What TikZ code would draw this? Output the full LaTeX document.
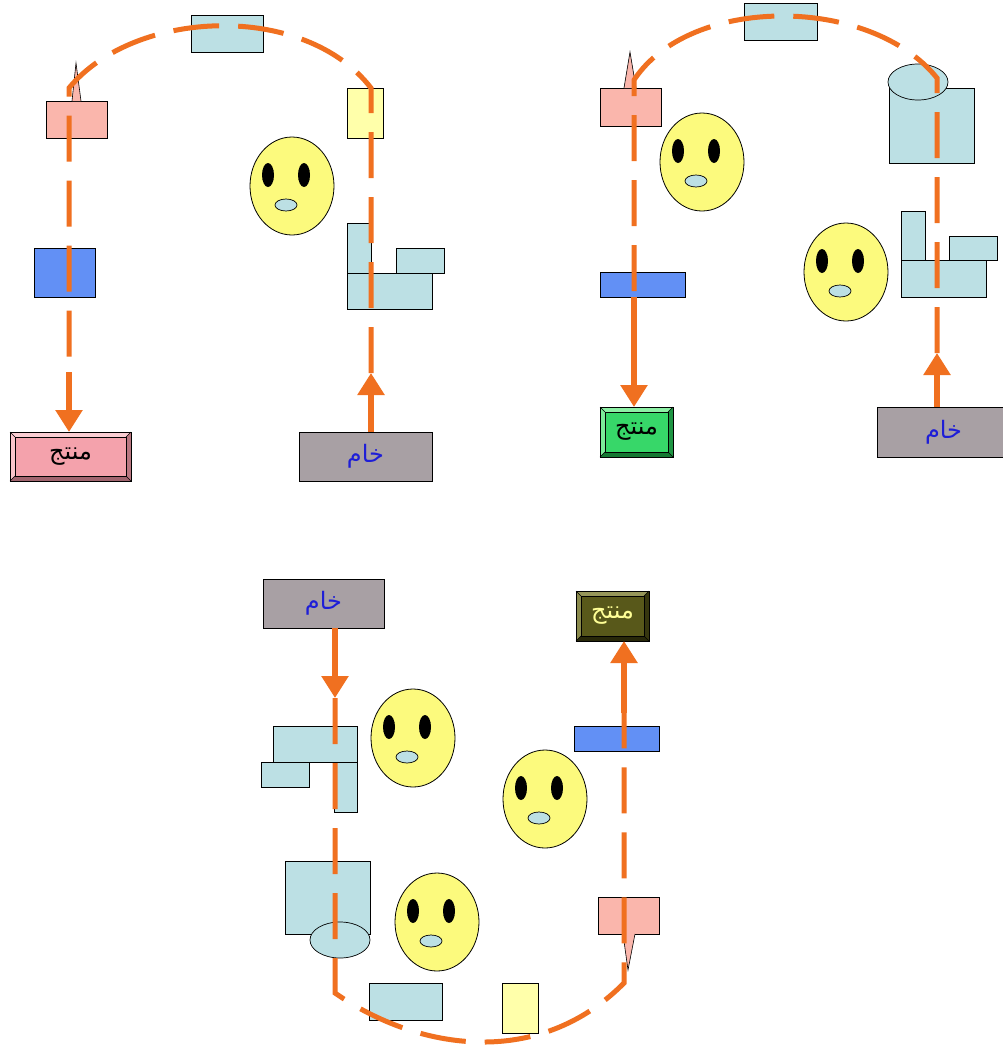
\documentclass[tikz,border=0pt]{standalone}
\usepackage{fontspec}
\usetikzlibrary{arrows.meta,shapes.geometric,calc}
\newfontfamily\arabicfont[Script=Arabic]{DejaVu Sans}
\TeXXeTstate=1

\definecolor{flow}{RGB}{240,112,32}
\definecolor{machblue}{RGB}{188,224,228}
\definecolor{salmon}{RGB}{250,182,172}
\definecolor{paleyellow}{RGB}{255,255,170}
\definecolor{toolblue}{RGB}{98,144,245}
\definecolor{faceyellow}{RGB}{252,250,125}
\definecolor{rawgray}{RGB}{168,160,164}
\definecolor{rawtext}{RGB}{30,30,215}
% bevelled product boxes: base, light band, dark band, text
\definecolor{pinkbase}{RGB}{244,162,172}
\definecolor{pinklight}{RGB}{250,205,210}
\definecolor{pinkdark}{RGB}{160,100,110}
\definecolor{pinktext}{RGB}{0,0,0}
\definecolor{greenbase}{RGB}{55,215,105}
\definecolor{greenlight}{RGB}{140,240,165}
\definecolor{greendark}{RGB}{20,120,50}
\definecolor{greentext}{RGB}{0,0,0}
\definecolor{olivebase}{RGB}{88,88,26}
\definecolor{olivelight}{RGB}{150,150,90}
\definecolor{olivedark}{RGB}{40,40,10}
\definecolor{olivetext}{RGB}{255,255,150}

\tikzset{
  every node/.style={inner sep=0pt, outer sep=0pt},
  box/.style={rectangle, draw=black, line width=0.7pt},
  mach/.style={box, fill=machblue},
  flowline/.style={draw=flow, line width=5pt, dash pattern=on 46pt off 19pt},
  feed/.style={draw=flow, line width=6pt, -{Triangle[width=26pt,length=22pt]}},
  face/.style={ellipse, draw=black, line width=0.8pt, fill=faceyellow,
    minimum width=84pt, minimum height=98pt},
  label/.style={font=\arabicfont\fontsize{24}{28}\selectfont},
}

% a smiley: name, x, y
\newcommand\smiley[3]{%
  \node[face] (#1) at (#2,#3) {};
  \fill ($(#1.center)+(-24,-11)$) ellipse [x radius=6pt, y radius=12pt];
  \fill ($(#1.center)+(12,-11)$) ellipse [x radius=6pt, y radius=12pt];
  \draw[fill=machblue, line width=0.7pt] ($(#1.center)+(-6,19)$) ellipse [x radius=11pt, y radius=6pt];
}

% bevelled box: name, x, y, width, height, colour set, text
\newcommand\bevelbox[7]{%
  \node[box, label, fill=#6base, text=#6text, minimum width=#4pt, minimum height=#5pt]
    (#1) at (#2,#3) {\beginR #7\endR};
  \path[fill=#6light] (#1.north west) -- (#1.north east) -- ($(#1.north east)+(-5,5)$)
    -- ($(#1.north west)+(5,5)$) -- cycle;
  \path[fill=#6light!80!#6base] (#1.north west) -- ($(#1.north west)+(5,5)$)
    -- ($(#1.south west)+(5,-5)$) -- (#1.south west) -- cycle;
  \path[fill=#6dark] (#1.south west) -- ($(#1.south west)+(5,-5)$)
    -- ($(#1.south east)+(-5,-5)$) -- (#1.south east) -- cycle;
  \path[fill=#6dark!70!#6base] (#1.north east) -- (#1.south east)
    -- ($(#1.south east)+(-5,-5)$) -- ($(#1.north east)+(-5,5)$) -- cycle;
  \draw[line width=0.6pt] (#1.north west) rectangle (#1.south east);
  \draw[line width=0.5pt] ($(#1.north west)+(5,5)$) rectangle ($(#1.south east)+(-5,-5)$);
  \draw[line width=0.5pt] (#1.north west) -- ($(#1.north west)+(5,5)$)
    (#1.north east) -- ($(#1.north east)+(-5,5)$)
    (#1.south west) -- ($(#1.south west)+(5,-5)$)
    (#1.south east) -- ($(#1.south east)+(-5,-5)$);
}

\begin{document}
\begin{tikzpicture}[x=1pt, y=-1pt]
\useasboundingbox (0,0) rectangle (1003,1053);
\fill[white] (0,0) rectangle (1003,1053);
\clip (0,0) rectangle (1003,1053);

% ---------------- first loop (top left) ----------------
\node[mach, minimum width=72pt, minimum height=37pt] (a_top) at (227,33.5) {};
\node[box, fill=salmon, minimum width=61pt, minimum height=37pt] (a_pink) at (76.5,119.5) {};
\draw[fill=salmon, line width=0.6pt] (72,101) -- (76,63) -- (81,101);
\node[box, fill=toolblue, minimum width=61pt, minimum height=49pt] (a_blue) at (64.5,272.5) {};
\node[box, fill=paleyellow, minimum width=36pt, minimum height=50pt] (a_yel) at (365,113) {};
\node[mach, minimum width=24pt, minimum height=66pt] (a_lv) at (359,256) {};
\node[mach, minimum width=85pt, minimum height=36pt] (a_lb) at (389.5,291) {};
\node[mach, minimum width=48pt, minimum height=25pt] (a_ls) at (420,260.5) {};
\smiley{a_face}{292}{186}
\bevelbox{a_prod}{70.5}{456.5}{121}{49}{pink}{منتج}
\node[box, label, fill=rawgray, text=rawtext, minimum width=133pt, minimum height=49pt]
  (a_raw) at (365.5,456.5) {\beginR خام\endR};

\coordinate (a_in) at (371,373);
\coordinate (a_c1) at (371,88);
\coordinate (a_c2) at (69,88);
\coordinate (a_out) at (69,372);
\draw[feed] (a_in |- a_raw.north) -- (a_in);
\draw[flowline] (a_in) -- (a_c1) .. controls (305,2) and (135,8) .. (a_c2) -- (a_out);
\draw[feed] (a_out) -- (a_out |- a_prod.north);

% ---------------- second loop (top right) ----------------
\node[mach, minimum width=73pt, minimum height=37pt] (b_top) at (780.5,21.5) {};
\node[box, fill=salmon, minimum width=61pt, minimum height=38pt] (b_pink) at (630.5,107) {};
\draw[fill=salmon, line width=0.6pt] (624,88) -- (630,52) -- (636,88);
\node[box, fill=toolblue, minimum width=85pt, minimum height=25pt] (b_blue) at (642.5,284.5) {};
\node[mach, minimum width=85pt, minimum height=75pt] (b_tank) at (931.5,125.5) {};
\node[ellipse, draw=black, line width=0.7pt, fill=machblue, minimum width=60pt, minimum height=36pt]
  (b_lid) at (918,82) {};
\node[mach, minimum width=24pt, minimum height=59pt] (b_lv) at (913,240.5) {};
\node[mach, minimum width=85pt, minimum height=37pt] (b_lb) at (943.5,278.5) {};
\node[mach, minimum width=48pt, minimum height=24pt] (b_ls) at (973,248) {};
\smiley{b_face1}{702}{162}
\smiley{b_face2}{846}{272}
\bevelbox{b_prod}{636.5}{432}{73}{50}{green}{منتج}
\node[box, label, fill=rawgray, text=rawtext, minimum width=133pt, minimum height=50pt]
  (b_raw) at (943.5,432) {\beginR خام\endR};

\coordinate (b_in) at (937,353);
\coordinate (b_c1) at (937,78);
\coordinate (b_c2) at (634,80);
\coordinate (b_out) at (634,297);
\draw[feed] (b_in |- b_raw.north) -- (b_in);
\draw[flowline] (b_in) -- (b_c1) .. controls (870,-5) and (690,-5) .. (b_c2) -- (b_out);
\draw[feed] (b_out) -- (b_out |- b_prod.north);

% ---------------- third loop (bottom) ----------------
\node[box, label, fill=rawgray, text=rawtext, minimum width=121pt, minimum height=49pt]
  (c_raw) at (323.5,603.5) {\beginR خام\endR};
\node[mach, minimum width=23pt, minimum height=57pt] (c_lv) at (345.5,783.5) {};
\node[mach, minimum width=84pt, minimum height=36pt] (c_lt) at (315,744) {};
\node[mach, minimum width=48pt, minimum height=25pt] (c_ls) at (285,774.5) {};
\node[mach, minimum width=85pt, minimum height=73pt] (c_tank) at (327.5,897.5) {};
\node[ellipse, draw=black, line width=0.7pt, fill=machblue, minimum width=60pt, minimum height=36pt]
  (c_lid) at (340,940) {};
\smiley{c_face1}{413}{738}
\smiley{c_face2}{545}{799}
\smiley{c_face3}{437}{922}
\bevelbox{c_prod}{612.5}{616}{73}{50}{olive}{منتج}
\node[box, fill=toolblue, minimum width=85pt, minimum height=25pt] (c_blue) at (616.5,738.5) {};
\node[box, fill=salmon, minimum width=61pt, minimum height=37pt] (c_pink) at (628.5,915.5) {};
\draw[fill=salmon, line width=0.6pt] (623,934) -- (628,970) -- (635,934);
\node[mach, minimum width=73pt, minimum height=37pt] (c_bot) at (405.5,1001.5) {};
\node[box, fill=paleyellow, minimum width=36pt, minimum height=50pt] (c_yel) at (520,1008) {};

\coordinate (c_in) at (335,698);
\coordinate (c_c1) at (335,993);
\coordinate (c_c2) at (624,983);
\coordinate (c_out) at (624,713);
\draw[feed] (c_in |- c_raw.south) -- (c_in);
\draw[flowline] (c_in) -- (c_c1) .. controls (420,1052) and (540,1068) .. (c_c2) -- (c_out);
\draw[feed] (c_out) -- (c_out |- c_prod.south);
\end{tikzpicture}
\end{document}
